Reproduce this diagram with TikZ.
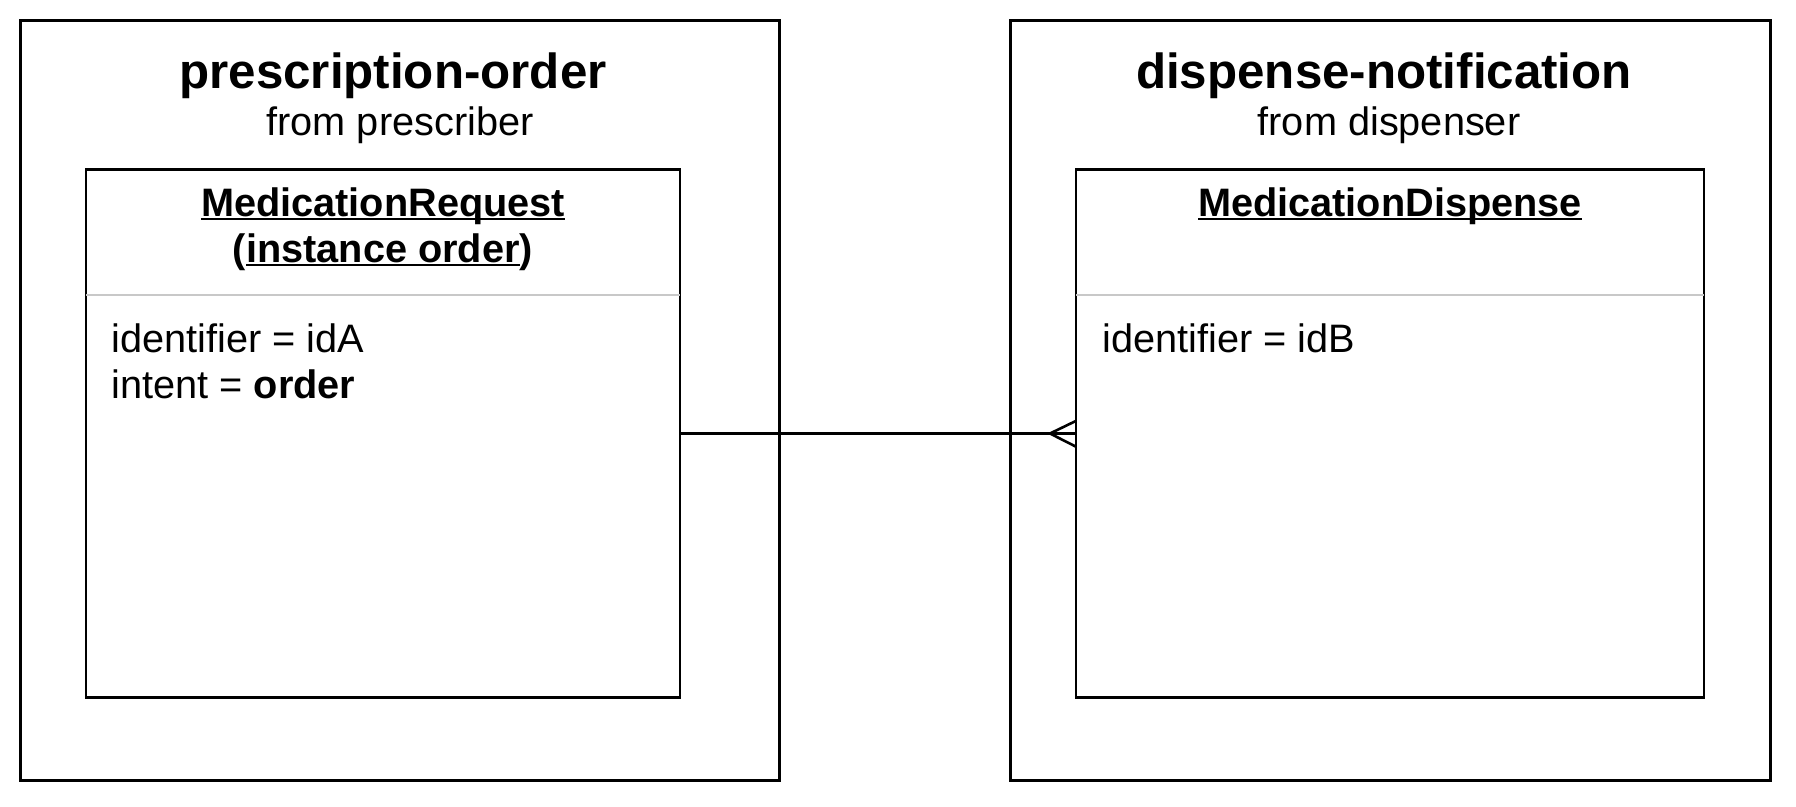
\documentclass[tikz,border=0pt]{standalone}
\usepackage{fontspec}
\setmainfont{Liberation Sans}
\usepackage{xcolor}
\usetikzlibrary{arrows}

\definecolor{sepgray}{RGB}{200,200,200}

\newcommand{\undertext}[1]{\setbox0\hbox{#1}\rlap{\rule[-1.6pt]{\wd0}{0.9pt}}\box0}

\tikzset{
  outerbox/.style={draw, line width=1.5pt, inner sep=0, outer sep=0, anchor=north west},
  classbox/.style={draw, line width=1.4pt, inner sep=0, outer sep=0, anchor=north west, minimum height=264pt},
  titletext/.style={inner sep=0, anchor=base, font=\fontsize{24.65}{29}\selectfont\bfseries},
  subtext/.style={inner sep=0, anchor=base, font=\fontsize{19.85}{24}\selectfont},
  attrtext/.style={inner sep=0, anchor=base west, font=\fontsize{19.85}{24}\selectfont},
  sepline/.style={draw=sepgray, line width=1pt},
  link/.style={line width=1.3pt}
}

\begin{document}
\begin{tikzpicture}[x=0.5pt, y=-0.5pt]
\useasboundingbox (0,0) rectangle (1796,807);

% message bundles
\node [outerbox, minimum width=379.2pt, minimum height=380.2pt] (porder) at (20.6,20.6) {};
\node [outerbox, minimum width=380pt, minimum height=380.2pt] (dnote) at (1010,20.6) {};

\node [titletext] (porderT) at (393,88.3) {prescription-order};
\node [subtext] (porderS) at (400,136) {from prescriber};
\node [titletext] (dnoteT) at (1384,88.3) {dispense-notification};
\node [subtext] (dnoteS) at (1389,136) {from dispenser};

% resources
\node [classbox, minimum width=297pt] (mreq) at (86,169.5) {};
\node [classbox, minimum width=314pt] (mdisp) at (1076,169.5) {};

\draw [sepline] ([yshift=-63pt]mreq.north west) -- ([yshift=-63pt]mreq.north east);
\draw [sepline] ([yshift=-63pt]mdisp.north west) -- ([yshift=-63pt]mdisp.north east);

\node [subtext, font=\fontsize{19.85}{24}\selectfont\bfseries] (mreqN) at (383,216.7) {\undertext{MedicationRequest}};
\node [subtext, font=\fontsize{19.85}{24}\selectfont\bfseries] (mreqI) at (383,263) {(\undertext{instance order})};
\node [subtext, font=\fontsize{19.85}{24}\selectfont\bfseries] (mdispN) at (1390,216.7) {\undertext{MedicationDispense}};

\node [attrtext] (mreqA) at (111,352.3) {identifier = idA};
\node [attrtext] (mreqB) at (111,398.3) {intent = \textbf{order}};
\node [attrtext] (mdispA) at (1102,352.3) {identifier = idB};

% one to many
\draw [link] (mreq.east) -- (mdisp.west);
\coordinate (crow) at ([xshift=-13pt]mdisp.west);
\draw [link] ([yshift=6.3pt]mdisp.west) -- (crow) -- ([yshift=-6.6pt]mdisp.west);

\end{tikzpicture}
\end{document}
